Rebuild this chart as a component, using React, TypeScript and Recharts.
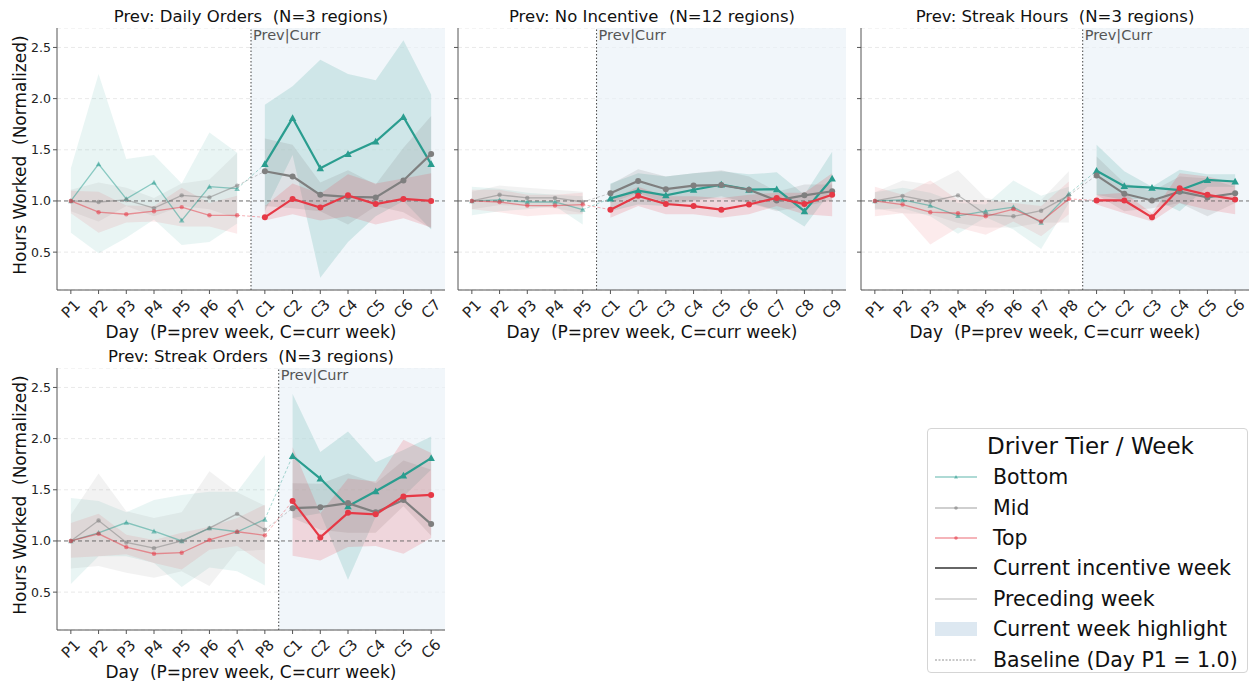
import React from "react";
import {
  ComposedChart,
  Line,
  Area,
  XAxis,
  YAxis,
  CartesianGrid,
  ReferenceLine,
  ReferenceArea,
} from "recharts";

const TEAL = "#2a9d8f";
const GREY = "#7f7f7f";
const RED = "#e63946";
const FONT = "DejaVu Sans, sans-serif";

// ---- Prev: Daily Orders (P1-P7, C1-C7)
const dailyDays = ["P1", "P2", "P3", "P4", "P5", "P6", "P7", "C1", "C2", "C3", "C4", "C5", "C6", "C7"];
const dailyBottom = [1.0, 1.36, 1.02, 1.18, 0.81, 1.14, 1.12, 1.36, 1.81, 1.32, 1.46, 1.58, 1.82, 1.36];
const dailyBottomLo = [0.69, 0.49, 0.64, 0.82, 0.57, 0.6, 0.78, 0.9, 1.45, 0.25, 0.6, 0.85, 1.0, 0.72];
const dailyBottomHi = [1.32, 2.24, 1.41, 1.45, 1.17, 1.67, 1.47, 1.94, 2.12, 2.38, 2.24, 2.18, 2.57, 2.04];
const dailyMid = [1.0, 0.99, 1.01, 0.93, 1.055, 1.035, 1.15, 1.29, 1.24, 1.06, 1.04, 1.035, 1.2, 1.46];
const dailyMidLo = [0.9, 0.8, 0.95, 0.85, 0.95, 0.92, 0.83, 0.95, 0.93, 0.9, 0.77, 0.95, 0.89, 0.73];
const dailyMidHi = [1.11, 1.18, 1.13, 1.03, 1.17, 1.21, 1.47, 1.61, 1.55, 1.18, 1.3, 1.16, 1.52, 1.83];
const dailyTop = [1.0, 0.89, 0.87, 0.9, 0.94, 0.86, 0.86, 0.84, 1.02, 0.935, 1.055, 0.97, 1.02, 1.0];
const dailyTopLo = [0.88, 0.69, 0.79, 0.8, 0.75, 0.75, 0.68, 0.81, 0.87, 0.81, 0.85, 0.77, 0.83, 0.74];
const dailyTopHi = [1.1, 1.09, 0.955, 0.95, 1.13, 0.98, 1.05, 0.95, 1.17, 1.07, 1.26, 1.17, 1.22, 1.27];

// ---- Prev: No Incentive (P1-P5, C1-C9)
const noneDays = ["P1", "P2", "P3", "P4", "P5", "C1", "C2", "C3", "C4", "C5", "C6", "C7", "C8", "C9"];
const noneBottom = [1.0, 1.01, 0.99, 0.99, 0.915, 1.025, 1.1, 1.055, 1.11, 1.16, 1.11, 1.115, 0.9, 1.22];
const noneBottomLo = [0.86, 0.9, 0.92, 0.95, 0.77, 0.9, 0.965, 0.95, 1.0, 1.045, 0.98, 0.915, 0.75, 1.11];
const noneBottomHi = [1.14, 1.12, 1.08, 1.06, 1.045, 1.17, 1.27, 1.24, 1.27, 1.29, 1.26, 1.28, 1.06, 1.48];
const noneMid = [1.0, 1.06, 1.03, 1.03, 0.99, 1.075, 1.195, 1.115, 1.15, 1.155, 1.11, 1.005, 1.055, 1.095];
const noneMidLo = [0.92, 0.96, 0.95, 0.93, 0.88, 0.98, 1.08, 0.98, 1.01, 1.03, 0.98, 0.9, 0.95, 1.005];
const noneMidHi = [1.09, 1.15, 1.13, 1.11, 1.09, 1.16, 1.31, 1.24, 1.27, 1.3, 1.24, 1.09, 1.16, 1.16];
const noneTop = [1.0, 0.99, 0.955, 0.955, 0.965, 0.915, 1.05, 0.97, 0.95, 0.915, 0.965, 1.03, 0.97, 1.06];
const noneTopLo = [0.92, 0.89, 0.85, 0.87, 0.87, 0.835, 0.95, 0.87, 0.87, 0.835, 0.87, 0.95, 0.87, 0.85];
const noneTopHi = [1.11, 1.11, 1.06, 1.06, 1.08, 1.01, 1.14, 1.045, 1.045, 1.03, 1.06, 1.08, 1.08, 1.27];

// ---- Prev: Streak Hours (P1-P8, C1-C6)
const hoursDays = ["P1", "P2", "P3", "P4", "P5", "P6", "P7", "P8", "C1", "C2", "C3", "C4", "C5", "C6"];
const hoursBottom = [1.0, 1.01, 0.955, 0.855, 0.9, 0.94, 0.79, 1.07, 1.295, 1.145, 1.13, 1.105, 1.205, 1.19];
const hoursBottomLo = [0.915, 0.93, 0.85, 0.68, 0.84, 0.72, 0.53, 0.98, 1.06, 1.01, 1.03, 0.9, 1.14, 1.14];
const hoursBottomHi = [1.085, 1.13, 1.08, 0.98, 0.965, 1.2, 1.05, 1.14, 1.55, 1.29, 1.14, 1.305, 1.26, 1.26];
const hoursMid = [1.0, 1.05, 0.995, 1.055, 0.87, 0.85, 0.905, 1.055, 1.25, 1.07, 1.005, 1.09, 1.035, 1.075];
const hoursMidLo = [0.93, 0.88, 0.87, 0.785, 0.74, 0.74, 0.79, 0.79, 1.06, 0.9, 0.93, 0.98, 0.85, 0.98];
const hoursMidHi = [1.085, 1.2, 1.16, 1.3, 1.03, 0.98, 1.01, 1.29, 1.435, 1.175, 1.095, 1.24, 1.22, 1.14];
const hoursTop = [1.0, 0.965, 0.89, 0.88, 0.85, 0.92, 0.8, 1.02, 1.005, 1.005, 0.84, 1.125, 1.06, 1.015];
const hoursTopLo = [0.85, 0.88, 0.575, 0.74, 0.67, 0.8, 0.655, 0.87, 0.965, 0.88, 0.8, 0.98, 0.915, 0.87];
const hoursTopHi = [1.14, 1.06, 1.2, 1.01, 1.01, 0.98, 0.95, 1.19, 1.06, 1.08, 0.88, 1.27, 1.24, 1.175];

// ---- Prev: Streak Orders (P1-P8, C1-C6)
const ordersDays = ["P1", "P2", "P3", "P4", "P5", "P6", "P7", "P8", "C1", "C2", "C3", "C4", "C5", "C6"];
const ordersBottom = [1.0, 1.08, 1.18, 1.095, 1.0, 1.125, 1.09, 1.21, 1.83, 1.61, 1.34, 1.485, 1.64, 1.81];
const ordersBottomLo = [0.58, 0.85, 0.85, 0.785, 0.55, 0.74, 0.705, 0.565, 1.225, 1.27, 0.62, 1.24, 1.435, 1.695];
const ordersBottomHi = [1.42, 1.39, 1.28, 1.4, 1.45, 1.48, 1.48, 1.84, 2.435, 1.87, 2.07, 1.77, 1.89, 2.02];
const ordersMid = [1.0, 1.2, 0.985, 0.93, 1.0, 1.125, 1.265, 1.11, 1.32, 1.33, 1.37, 1.28, 1.4, 1.165];
const ordersMidLo = [0.73, 0.755, 0.69, 0.64, 0.705, 0.56, 0.9, 0.915, 1.225, 1.11, 1.08, 1.08, 1.34, 1.05];
const ordersMidHi = [1.255, 1.66, 1.29, 1.225, 1.28, 1.68, 1.475, 1.345, 1.565, 1.56, 1.66, 1.565, 1.785, 1.695];
const ordersTop = [1.0, 1.07, 0.94, 0.875, 0.885, 1.01, 1.09, 1.055, 1.39, 1.035, 1.275, 1.26, 1.435, 1.45];
const ordersTopLo = [0.835, 0.85, 0.87, 0.785, 0.72, 0.915, 0.95, 0.77, 0.855, 0.81, 0.94, 0.95, 0.875, 1.03];
const ordersTopHi = [1.175, 1.265, 1.06, 1.01, 1.08, 1.14, 1.225, 1.355, 1.915, 1.27, 1.61, 1.58, 1.99, 1.86];

const Y_TICKS = [0.5, 1.0, 1.5, 2.0, 2.5];

type Tier = { key: string; color: string; shape: "tri" | "dot"; mean: number[]; lo: number[]; hi: number[] };

const makeDot = (shape: string, color: string, r: number, op: number) => (props: any) => {
  const { cx, cy, index, value } = props;
  if (cx == null || cy == null || value == null || isNaN(cy)) return <g key={`d${index}`} />;
  if (shape === "tri") {
    const s = r * 1.25;
    return (
      <polygon
        key={`d${index}`}
        points={`${cx},${cy - s} ${cx - s},${cy + s * 0.8} ${cx + s},${cy + s * 0.8}`}
        fill={color}
        fillOpacity={op}
      />
    );
  }
  return <circle key={`d${index}`} cx={cx} cy={cy} r={r} fill={color} fillOpacity={op} />;
};

const XTick = ({ x, y, payload, labels }: any) => (
  <g transform={`translate(${x},${y + 13}) rotate(-45)`}>
    <text textAnchor="middle" dominantBaseline="central" fontSize={15} fill="#222" fontFamily={FONT}>
      {labels[payload.value]}
    </text>
  </g>
);

function Panel({ left, top, title, days, tiers, showY }: any) {
  const n = days.length;
  const np = days.filter((d: string) => d.startsWith("P")).length;
  const rows = days.map((_: string, i: number) => {
    const row: any = { x: i };
    tiers.forEach((t: Tier) => {
      if (i < np) {
        row[t.key + "P"] = t.mean[i];
        row[t.key + "PB"] = [t.lo[i], t.hi[i]];
      } else {
        row[t.key + "C"] = t.mean[i];
        row[t.key + "CB"] = [t.lo[i], t.hi[i]];
      }
      row[t.key + "J"] = i === np - 1 || i === np ? t.mean[i] : null;
    });
    return row;
  });
  const ticks = days.map((_: string, i: number) => i);

  return (
    <div style={{ position: "absolute", left: left - 50, top }}>
      <div
        style={{
          position: "absolute",
          left: 50,
          width: 388,
          top: -21,
          textAlign: "center",
          fontSize: 16.5,
          lineHeight: "20px",
          whiteSpace: "pre",
          color: "#111",
        }}
      >
        {title}
      </div>
      <div
        style={{
          position: "absolute",
          left: 50,
          width: 388,
          top: 294,
          textAlign: "center",
          fontSize: 17,
          lineHeight: "20px",
          whiteSpace: "pre",
          color: "#111",
        }}
      >
        {"Day  (P=prev week, C=curr week)"}
      </div>
      {showY && (
        <div
          style={{
            position: "absolute",
            left: 20 - (left - 50) - 150,
            top: 127 - 10,
            width: 300,
            textAlign: "center",
            fontSize: 17,
            lineHeight: "20px",
            transform: "rotate(-90deg)",
            whiteSpace: "pre",
            color: "#111",
          }}
        >
          {"Hours Worked  (Normalized)"}
        </div>
      )}
      <ComposedChart width={441} height={322} data={rows} margin={{ top: 0, right: 3, bottom: 0, left: 0 }}>
        <ReferenceArea x1={np - 0.5} x2={n - 0.5} y1={0.13} y2={2.69} fill="#eaf1f7" fillOpacity={0.65} stroke="none" />
        <CartesianGrid vertical={false} stroke="#e3e3e3" strokeDasharray="4 3" strokeWidth={0.8} />
        <XAxis
          type="number"
          dataKey="x"
          domain={[-0.5, n - 0.5]}
          ticks={ticks}
          interval={0}
          height={60}
          tickSize={4}
          tick={<XTick labels={days} />}
          stroke="#555"
          tickLine={{ stroke: "#555" }}
        />
        <YAxis
          type="number"
          domain={[0.13, 2.69]}
          ticks={Y_TICKS}
          allowDataOverflow
          width={50}
          tickSize={4}
          tickFormatter={(v: number) => (showY ? v.toFixed(1) : "")}
          tick={{ fontSize: 12.5, fill: "#222", fontFamily: FONT }}
          stroke="#555"
        />
        {tiers.map((t: Tier) => (
          <Area
            key={t.key + "PB"}
            dataKey={t.key + "PB"}
            fill={t.color}
            fillOpacity={0.1}
            stroke="none"
            isAnimationActive={false}
            activeDot={false}
          />
        ))}
        {tiers.map((t: Tier) => (
          <Area
            key={t.key + "CB"}
            dataKey={t.key + "CB"}
            fill={t.color}
            fillOpacity={0.17}
            stroke="none"
            isAnimationActive={false}
            activeDot={false}
          />
        ))}
        <ReferenceLine y={1} stroke="#666" strokeDasharray="4 3" strokeWidth={0.9} />
        <ReferenceLine x={np - 0.5} stroke="#444" strokeDasharray="1.5 2" strokeWidth={1} />
        {tiers.map((t: Tier) => (
          <Line
            key={t.key + "J"}
            dataKey={t.key + "J"}
            stroke={t.color}
            strokeOpacity={0.4}
            strokeWidth={1}
            strokeDasharray="3 2"
            dot={false}
            activeDot={false}
            isAnimationActive={false}
          />
        ))}
        {tiers.map((t: Tier) => (
          <Line
            key={t.key + "P"}
            dataKey={t.key + "P"}
            stroke={t.color}
            strokeOpacity={0.5}
            strokeWidth={1.3}
            dot={makeDot(t.shape, t.color, 2.2, 0.55)}
            activeDot={false}
            isAnimationActive={false}
          />
        ))}
        {tiers.map((t: Tier) => (
          <Line
            key={t.key + "C"}
            dataKey={t.key + "C"}
            stroke={t.color}
            strokeWidth={2.2}
            dot={makeDot(t.shape, t.color, 3, 1)}
            activeDot={false}
            isAnimationActive={false}
          />
        ))}
      </ComposedChart>
      <div
        style={{
          position: "absolute",
          left: 50 + (np / n) * 388 + 2,
          top: -1,
          fontSize: 14.5,
          color: "#555",
          lineHeight: "16px",
        }}
      >
        Prev|Curr
      </div>
    </div>
  );
}

const tiersOf = (b: number[][], m: number[][], t: number[][]): Tier[] => [
  { key: "b", color: TEAL, shape: "tri", mean: b[0], lo: b[1], hi: b[2] },
  { key: "m", color: GREY, shape: "dot", mean: m[0], lo: m[1], hi: m[2] },
  { key: "t", color: RED, shape: "dot", mean: t[0], lo: t[1], hi: t[2] },
];

const LegendRow = ({ kind, label }: any) => {
  let handle: any = null;
  if (kind === "b" || kind === "m" || kind === "t") {
    const c = kind === "b" ? TEAL : kind === "m" ? GREY : RED;
    handle = (
      <svg width={44} height={12}>
        <line x1={1} y1={6} x2={43} y2={6} stroke={c} strokeOpacity={0.5} strokeWidth={1.3} />
        {kind === "b" ? (
          <polygon points="22,4 20,7.5 24,7.5" fill={c} fillOpacity={0.6} />
        ) : (
          <circle cx={22} cy={6} r={1.8} fill={c} fillOpacity={0.6} />
        )}
      </svg>
    );
  } else if (kind === "cur") {
    handle = (
      <svg width={44} height={12}>
        <line x1={1} y1={6} x2={43} y2={6} stroke="#666" strokeWidth={2} />
      </svg>
    );
  } else if (kind === "pre") {
    handle = (
      <svg width={44} height={12}>
        <line x1={1} y1={6} x2={43} y2={6} stroke="#ccc" strokeWidth={1.3} />
      </svg>
    );
  } else if (kind === "hl") {
    handle = (
      <svg width={44} height={16}>
        <rect x={1} y={1} width={42} height={14} fill="#dde8f1" />
      </svg>
    );
  } else {
    handle = (
      <svg width={44} height={12}>
        <line x1={1} y1={6} x2={43} y2={6} stroke="#777" strokeWidth={0.8} strokeDasharray="2 1.5" />
      </svg>
    );
  }
  return (
    <div style={{ display: "flex", alignItems: "center", height: 30.4 }}>
      <div style={{ width: 44, display: "flex", justifyContent: "center" }}>{handle}</div>
      <div style={{ marginLeft: 15, fontSize: 20.5, whiteSpace: "nowrap" }}>{label}</div>
    </div>
  );
};

export default function App() {
  return (
    <div
      style={{
        position: "absolute",
        left: 0,
        top: 0,
        width: 1250,
        height: 681,
        overflow: "hidden",
        background: "#fff",
        fontFamily: FONT,
      }}
    >
      <Panel
        left={57}
        top={28}
        title="Prev: Daily Orders  (N=3 regions)"
        days={dailyDays}
        showY
        tiers={tiersOf(
          [dailyBottom, dailyBottomLo, dailyBottomHi],
          [dailyMid, dailyMidLo, dailyMidHi],
          [dailyTop, dailyTopLo, dailyTopHi]
        )}
      />
      <Panel
        left={458}
        top={28}
        title="Prev: No Incentive  (N=12 regions)"
        days={noneDays}
        tiers={tiersOf(
          [noneBottom, noneBottomLo, noneBottomHi],
          [noneMid, noneMidLo, noneMidHi],
          [noneTop, noneTopLo, noneTopHi]
        )}
      />
      <Panel
        left={861}
        top={28}
        title="Prev: Streak Hours  (N=3 regions)"
        days={hoursDays}
        tiers={tiersOf(
          [hoursBottom, hoursBottomLo, hoursBottomHi],
          [hoursMid, hoursMidLo, hoursMidHi],
          [hoursTop, hoursTopLo, hoursTopHi]
        )}
      />
      <Panel
        left={57}
        top={368}
        title="Prev: Streak Orders  (N=3 regions)"
        days={ordersDays}
        showY
        tiers={tiersOf(
          [ordersBottom, ordersBottomLo, ordersBottomHi],
          [ordersMid, ordersMidLo, ordersMidHi],
          [ordersTop, ordersTopLo, ordersTopHi]
        )}
      />
      <div
        style={{
          position: "absolute",
          left: 927,
          top: 428,
          width: 321,
          height: 245,
          border: "1px solid #d5d5d5",
          borderRadius: 4,
          boxSizing: "border-box",
          padding: "0 0 0 6px",
          color: "#111",
        }}
      >
        <div style={{ textAlign: "center", fontSize: 23, lineHeight: "32px", marginTop: 1 }}>Driver Tier / Week</div>
        <LegendRow kind="b" label="Bottom" />
        <LegendRow kind="m" label="Mid" />
        <LegendRow kind="t" label="Top" />
        <LegendRow kind="cur" label="Current incentive week" />
        <LegendRow kind="pre" label="Preceding week" />
        <LegendRow kind="hl" label="Current week highlight" />
        <LegendRow kind="base" label="Baseline (Day P1 = 1.0)" />
      </div>
    </div>
  );
}
